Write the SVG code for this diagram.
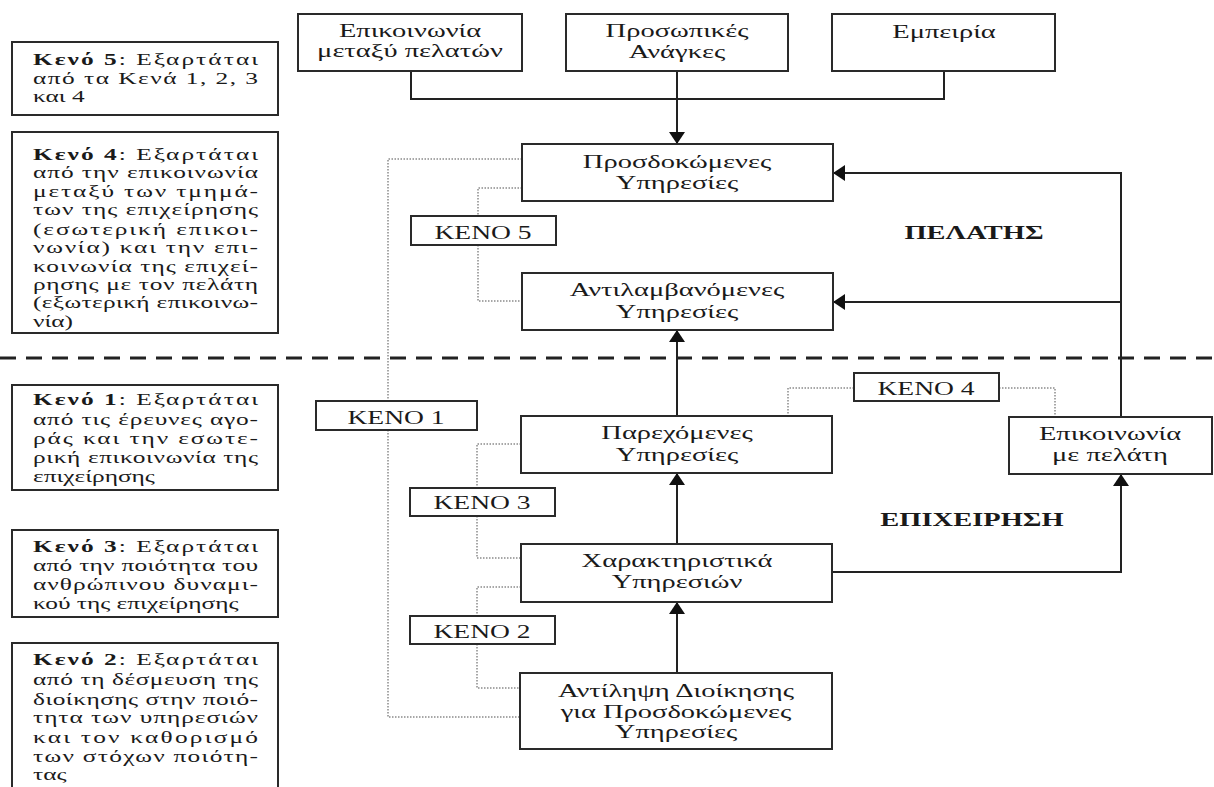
<svg xmlns="http://www.w3.org/2000/svg" width="1214" height="787" viewBox="0 0 1214 787">
<style>
.bg{fill:#fff}
.box{fill:#fff;stroke:#2a2a2a;stroke-width:2}
.t{font-family:"Liberation Serif","DejaVu Serif",serif;font-size:19px;fill:#1a1a1a;text-anchor:middle}
.k{font-family:"Liberation Serif","DejaVu Serif",serif;font-size:19px;fill:#1a1a1a;text-anchor:middle}
.h{font-family:"Liberation Serif","DejaVu Serif",serif;font-size:19px;font-weight:bold;fill:#1a1a1a;text-anchor:middle}
.lt{font-family:"Liberation Serif","DejaVu Serif",serif;font-size:17.5px;fill:#1a1a1a}
.b{font-weight:bold}
.conn{fill:none;stroke:#222;stroke-width:2}
.dot{fill:none;stroke:#8a8a8a;stroke-width:1.5;stroke-dasharray:1.5 1.5}
.sep{fill:none;stroke:#222;stroke-width:3;stroke-dasharray:16 10}
</style>
<defs>
<marker id="ah" viewBox="0 0 12 16" refX="12" refY="8" markerWidth="12" markerHeight="16" markerUnits="userSpaceOnUse" orient="auto">
<path d="M0,0 L12,8 L0,16 Z" fill="#111"/>
</marker>
</defs>
<rect class="bg" x="0" y="0" width="1214" height="787"/>

<!-- separator -->
<line class="sep" x1="0" y1="358" x2="1214" y2="358"/>

<!-- connectors -->
<g id="connectors">
<polyline class="dot" points="522,159 388,159 388,717 520,717"/>
<polyline class="dot" points="522,188 478,188 478,216"/>
<polyline class="dot" points="478,245 478,301 522,301"/>
<polyline class="dot" points="521,444 477,444 477,488"/>
<polyline class="dot" points="477,516 477,558 521,558"/>
<polyline class="dot" points="521,587 477,587 477,616"/>
<polyline class="dot" points="477,644 477,688 520,688"/>
<polyline class="dot" points="854,388 788,388 788,416"/>
<polyline class="dot" points="999,388 1055,388 1055,417"/>
<polyline class="conn" points="411,71 411,99 944,99 944,71"/>
<line class="conn" x1="677" y1="71" x2="677" y2="144" marker-end="url(#ah)"/>
<polyline class="conn" points="1121,417 1121,173 833,173" marker-end="url(#ah)"/>
<line class="conn" x1="1121" y1="302" x2="833" y2="302" marker-end="url(#ah)"/>
<line class="conn" x1="677" y1="416" x2="677" y2="330" marker-end="url(#ah)"/>
<line class="conn" x1="677" y1="544" x2="677" y2="473" marker-end="url(#ah)"/>
<line class="conn" x1="677" y1="673" x2="677" y2="602" marker-end="url(#ah)"/>
<polyline class="conn" points="832,572 1121,572 1121,474" marker-end="url(#ah)"/>
</g>

<!-- left notes -->
<g id="note5">
<rect class="box" x="12" y="42" width="266" height="73"/>
<g transform="scale(1.45,1)">
<text class="lt" x="22.76" y="65" textLength="155.2" lengthAdjust="spacing"><tspan class="b">Κενό 5</tspan>: Εξαρτάται</text>
<text class="lt" x="22.76" y="84" textLength="155.2" lengthAdjust="spacing">από τα Κενά 1, 2, 3</text>
<text class="lt" x="22.76" y="102">και 4</text>
</g>
</g>
<g id="note4">
<rect class="box" x="12" y="132" width="266" height="201"/>
<g transform="scale(1.45,1)">
<text class="lt" x="22.76" y="160" textLength="155.2" lengthAdjust="spacing"><tspan class="b">Κενό 4</tspan>: Εξαρτάται</text>
<text class="lt" x="22.76" y="178" textLength="155.2" lengthAdjust="spacing">από την επικοινωνία</text>
<text class="lt" x="22.76" y="197" textLength="155.2" lengthAdjust="spacing">μεταξύ των τμημά-</text>
<text class="lt" x="22.76" y="215" textLength="155.2" lengthAdjust="spacing">των της επιχείρησης</text>
<text class="lt" x="22.76" y="235" textLength="155.2" lengthAdjust="spacing">(εσωτερική επικοι-</text>
<text class="lt" x="22.76" y="253" textLength="155.2" lengthAdjust="spacing">νωνία) και την επι-</text>
<text class="lt" x="22.76" y="272" textLength="155.2" lengthAdjust="spacing">κοινωνία της επιχεί-</text>
<text class="lt" x="22.76" y="290" textLength="155.2" lengthAdjust="spacing">ρησης με τον πελάτη</text>
<text class="lt" x="22.76" y="308" textLength="155.2" lengthAdjust="spacing">(εξωτερική επικοινω-</text>
<text class="lt" x="22.76" y="327">νία)</text>
</g>
</g>
<g id="note1">
<rect class="box" x="12" y="385" width="266" height="105"/>
<g transform="scale(1.45,1)">
<text class="lt" x="22.76" y="405" textLength="155.2" lengthAdjust="spacing"><tspan class="b">Κενό 1</tspan>: Εξαρτάται</text>
<text class="lt" x="22.76" y="425" textLength="155.2" lengthAdjust="spacing">από τις έρευνες αγο-</text>
<text class="lt" x="22.76" y="444" textLength="155.2" lengthAdjust="spacing">ράς και την εσωτε-</text>
<text class="lt" x="22.76" y="463" textLength="155.2" lengthAdjust="spacing">ρική επικοινωνία της</text>
<text class="lt" x="22.76" y="482">επιχείρησης</text>
</g>
</g>
<g id="note3">
<rect class="box" x="12" y="530" width="266" height="87"/>
<g transform="scale(1.45,1)">
<text class="lt" x="22.76" y="552" textLength="155.2" lengthAdjust="spacing"><tspan class="b">Κενό 3</tspan>: Εξαρτάται</text>
<text class="lt" x="22.76" y="571" textLength="155.2" lengthAdjust="spacing">από την ποιότητα του</text>
<text class="lt" x="22.76" y="590" textLength="155.2" lengthAdjust="spacing">ανθρώπινου δυναμι-</text>
<text class="lt" x="22.76" y="609">κού της επιχείρησης</text>
</g>
</g>
<g id="note2">
<rect class="box" x="12" y="643" width="266" height="160"/>
<g transform="scale(1.45,1)">
<text class="lt" x="22.76" y="665" textLength="155.2" lengthAdjust="spacing"><tspan class="b">Κενό 2</tspan>: Εξαρτάται</text>
<text class="lt" x="22.76" y="685" textLength="155.2" lengthAdjust="spacing">από τη δέσμευση της</text>
<text class="lt" x="22.76" y="705" textLength="155.2" lengthAdjust="spacing">διοίκησης στην ποιό-</text>
<text class="lt" x="22.76" y="723" textLength="155.2" lengthAdjust="spacing">τητα των υπηρεσιών</text>
<text class="lt" x="22.76" y="743" textLength="155.2" lengthAdjust="spacing">και τον καθορισμό</text>
<text class="lt" x="22.76" y="762" textLength="155.2" lengthAdjust="spacing">των στόχων ποιότη-</text>
<text class="lt" x="22.76" y="780">τας</text>
</g>
</g>

<!-- top boxes -->
<g id="n-comm-customers">
<rect class="box" x="298" y="14" width="224" height="57"/>
<text class="t" transform="translate(410,37) scale(1.5,1)"><tspan x="0" y="0">Επικοινωνία</tspan><tspan x="0" y="20">μεταξύ πελατών</tspan></text>
</g>
<g id="n-needs">
<rect class="box" x="566" y="14" width="222" height="57"/>
<text class="t" transform="translate(677,37) scale(1.5,1)"><tspan x="0" y="0">Προσωπικές</tspan><tspan x="0" y="21">Ανάγκες</tspan></text>
</g>
<g id="n-experience">
<rect class="box" x="832" y="14" width="223" height="57"/>
<text class="t" transform="translate(944,38) scale(1.5,1)">Εμπειρία</text>
</g>

<!-- center column -->
<g id="n-expected">
<rect class="box" x="522" y="144" width="311" height="57"/>
<text class="t" transform="translate(677,168) scale(1.5,1)"><tspan x="0" y="0">Προσδοκώμενες</tspan><tspan x="0" y="21">Υπηρεσίες</tspan></text>
</g>
<g id="n-perceived">
<rect class="box" x="522" y="273" width="311" height="57"/>
<text class="t" transform="translate(677,296) scale(1.5,1)"><tspan x="0" y="0">Αντιλαμβανόμενες</tspan><tspan x="0" y="22">Υπηρεσίες</tspan></text>
</g>
<g id="n-delivered">
<rect class="box" x="521" y="416" width="311" height="57"/>
<text class="t" transform="translate(677,439) scale(1.5,1)"><tspan x="0" y="0">Παρεχόμενες</tspan><tspan x="0" y="22">Υπηρεσίες</tspan></text>
</g>
<g id="n-specs">
<rect class="box" x="521" y="544" width="311" height="58"/>
<text class="t" transform="translate(677,567) scale(1.5,1)"><tspan x="0" y="0">Χαρακτηριστικά</tspan><tspan x="0" y="21">Υπηρεσιών</tspan></text>
</g>
<g id="n-mgmt">
<rect class="box" x="520" y="673" width="312" height="76"/>
<text class="t" transform="translate(676,697) scale(1.5,1)"><tspan x="0" y="0">Αντίληψη Διοίκησης</tspan><tspan x="0" y="21">για Προσδοκώμενες</tspan><tspan x="0" y="41">Υπηρεσίες</tspan></text>
</g>
<g id="n-external">
<rect class="box" x="1009" y="417" width="203" height="57"/>
<text class="t" transform="translate(1110,440) scale(1.5,1)"><tspan x="0" y="0">Επικοινωνία</tspan><tspan x="0" y="21">με πελάτη</tspan></text>
</g>

<!-- gap labels -->
<g id="gap5">
<rect class="box" x="411" y="216" width="145" height="29"/>
<text class="k" transform="translate(483,239) scale(1.45,1)">ΚΕΝΟ 5</text>
</g>
<g id="gap1">
<rect class="box" x="316" y="401" width="161" height="29"/>
<text class="k" transform="translate(396,424) scale(1.45,1)">ΚΕΝΟ 1</text>
</g>
<g id="gap3">
<rect class="box" x="410" y="488" width="145" height="28"/>
<text class="k" transform="translate(482,509) scale(1.45,1)">ΚΕΝΟ 3</text>
</g>
<g id="gap2">
<rect class="box" x="410" y="616" width="145" height="28"/>
<text class="k" transform="translate(482,638) scale(1.45,1)">ΚΕΝΟ 2</text>
</g>
<g id="gap4">
<rect class="box" x="854" y="373" width="145" height="28"/>
<text class="k" transform="translate(926,395) scale(1.45,1)">ΚΕΝΟ 4</text>
</g>

<!-- region labels -->
<g id="lbl-customer">
<text class="h" transform="translate(974,239) scale(1.5,1)">ΠΕΛΑΤΗΣ</text>
</g>
<g id="lbl-company">
<text class="h" transform="translate(972,526) scale(1.5,1)">ΕΠΙΧΕΙΡΗΣΗ</text>
</g>
</svg>
